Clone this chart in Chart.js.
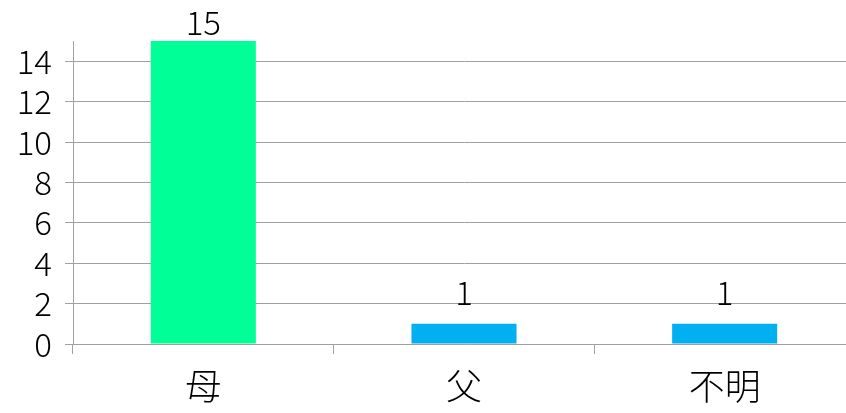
<!DOCTYPE html>
<html>
<head>
  <title>母・父・不明</title>
  <script src="https://cdn.jsdelivr.net/npm/chart.js@4.4.0/dist/chart.umd.min.js"></script>
  <style>
    html, body {
      margin: 0;
      padding: 0;
      overflow: hidden;
      background: #fff;
    }
    .chart-container {
      position: relative;
      width: 855px;
      height: 413px;
    }
  </style>
</head>
<body>
  <div class="chart-container">
    <canvas id="bar-chart"></canvas>
  </div>
  <script>
    var categories = ['母', '父', '不明'];
    var counts = [15, 1, 1];
    var barColors = ['#00FF96', '#00B0F0', '#00B0F0'];
    var yTicks = [0, 2, 4, 6, 8, 10, 12, 14];

    var FONT = '"Noto Sans CJK JP", "DejaVu Sans", sans-serif';

    // write the value above each bar, kept inside the canvas
    var valueLabels = {
      id: 'valueLabels',
      afterDatasetsDraw: function (chart) {
        var ctx = chart.ctx;
        var meta = chart.getDatasetMeta(0);
        ctx.save();
        ctx.font = '300 33px ' + FONT;
        ctx.fillStyle = '#000';
        ctx.textAlign = 'center';
        ctx.textBaseline = 'alphabetic';
        meta.data.forEach(function (bar, i) {
          var y = Math.max(bar.y - 19, 35);
          ctx.fillText(String(counts[i]), bar.x, y);
        });
        ctx.restore();
      }
    };

    var ctx = document.getElementById('bar-chart').getContext('2d');
    var chart = new Chart(ctx, {
      type: 'bar',
      data: {
        labels: categories,
        datasets: [{
          data: counts,
          backgroundColor: barColors,
          borderWidth: 0,
          barPercentage: 0.403,
          categoryPercentage: 1
        }]
      },
      options: {
        responsive: true,
        maintainAspectRatio: false,
        animation: false,
        layout: { padding: { top: 41, left: 0, right: 0, bottom: 0 } },
        plugins: {
          legend: { display: false },
          tooltip: { enabled: false }
        },
        scales: {
          x: {
            offset: true,
            grid: {
              offset: true,
              drawOnChartArea: false,
              color: '#A0A0A0',
              lineWidth: 1,
              tickLength: 10
            },
            border: { color: '#A0A0A0', width: 1 },
            ticks: {
              color: '#000',
              font: { family: FONT, size: 36, weight: 300 },
              padding: 11
            },
            afterFit: function (scale) { scale.height = 69; }
          },
          y: {
            min: 0,
            max: 15,
            bounds: 'data',
            grid: {
              color: '#A0A0A0',
              lineWidth: 1,
              tickLength: 8
            },
            border: { color: '#A0A0A0', width: 1 },
            ticks: {
              stepSize: 2,
              includeBounds: false,
              color: '#000',
              font: { family: FONT, size: 33, weight: 300 },
              padding: 13
            },
            afterBuildTicks: function (scale) {
              scale.ticks = yTicks.map(function (v) { return { value: v }; });
            },
            afterFit: function (scale) { scale.width = 73; }
          }
        }
      },
      plugins: [valueLabels]
    });
  </script>
</body>
</html>
